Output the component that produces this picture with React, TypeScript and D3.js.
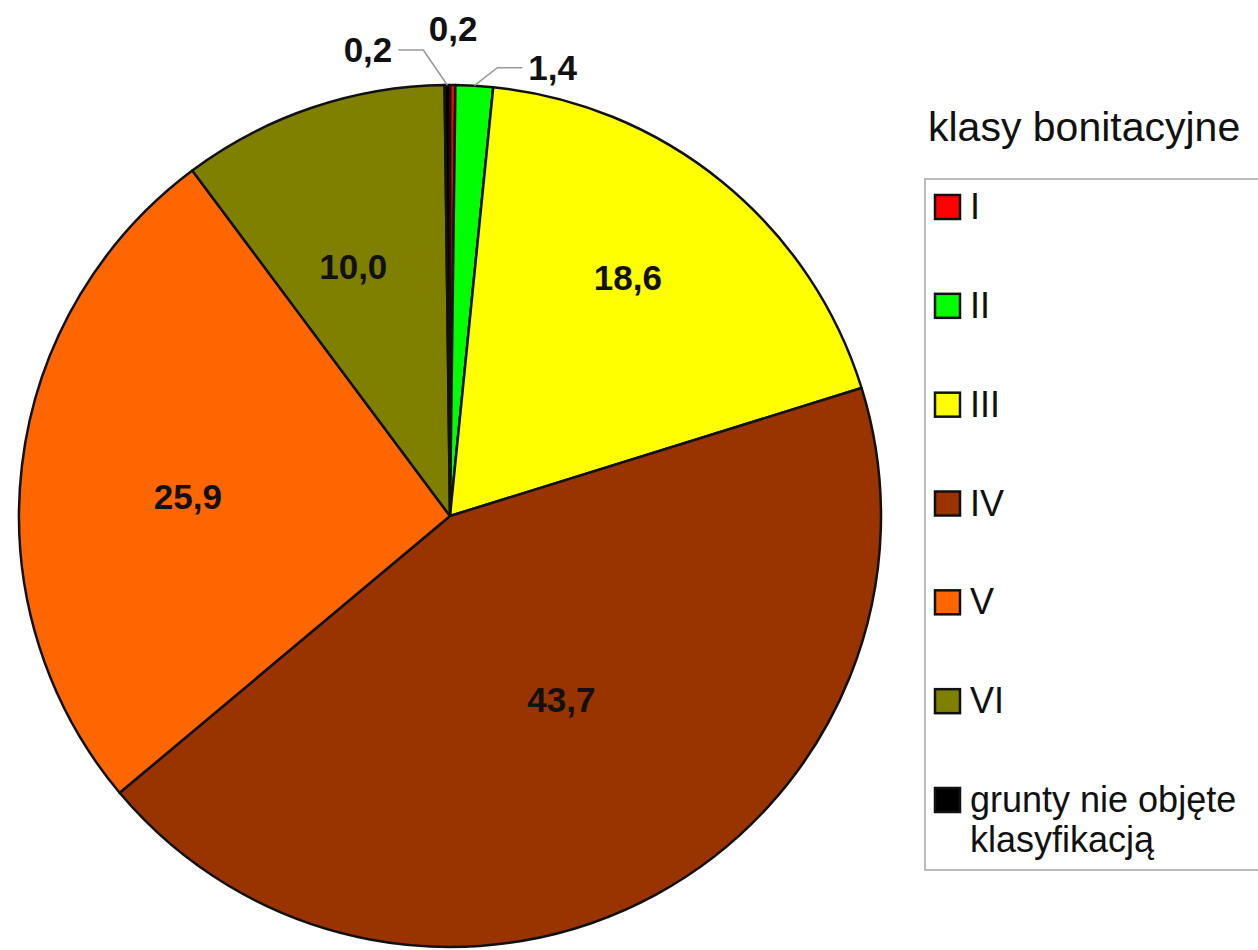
import React, { useEffect, useRef } from 'react';
import * as d3 from 'd3';

const categories = ['I', 'II', 'III', 'IV', 'V', 'VI', 'grunty nie objęte\nklasyfikacją'];
const values = [0.2, 1.4, 18.6, 43.7, 25.9, 10.0, 0.2];
const colors = ['#ff0000', '#00ff00', '#ffff00', '#993300', '#ff6600', '#808000', '#000000'];
const legendTitle = 'klasy bonitacyjne';

// label placement per slice: inside at a fraction of the radius, or outside with a leader line
const labelLayout: Record<number, any> = {
    0: { kind: 'top', rr: 1.13 },
    1: { kind: 'leader', ex: 23, ey: -18, run: 25 },
    2: { kind: 'in', rr: 0.69 },
    3: { kind: 'in', rr: 0.5 },
    4: { kind: 'in', rr: 0.61 },
    5: { kind: 'in', rr: 0.62 },
    6: { kind: 'leader', ex: -24, ey: -35, run: -25 },
};

const fmt = (v: number) => v.toFixed(1).replace('.', ',');

export default function App() {
    const ref = useRef<HTMLDivElement>(null);

    useEffect(() => {
        const container = ref.current;
        if (!container) return;
        container.innerHTML = '';

        const width = 1258;
        const height = 950;
        const cx = 450;
        const cy = 516;
        const radius = 431;
        const font = '"Liberation Sans", Arial, sans-serif';

        const svg = d3.select(container).append('svg')
            .attr('width', width)
            .attr('height', height)
            .style('display', 'block')
            .style('background', '#fff');

        const pie = d3.pie<number>().sort(null).value(d => d);
        const arcs = pie(values);
        const arc = d3.arc<d3.PieArcDatum<number>>().innerRadius(0).outerRadius(radius);

        const g = svg.append('g').attr('transform', `translate(${cx},${cy})`);

        g.selectAll('path')
            .data(arcs)
            .join('path')
            .attr('d', arc)
            .attr('fill', (d, i) => colors[i])
            .attr('stroke', '#111')
            .attr('stroke-width', 2.5)
            .attr('stroke-linejoin', 'round');

        const shift = -2.5 * Math.PI / 180;
        const polar = (a: number, r: number) => [Math.sin(a) * r, -Math.cos(a) * r];

        arcs.forEach((d, i) => {
            const lay = labelLayout[i];
            const mid = (d.startAngle + d.endAngle) / 2;
            const text = fmt(values[i]);
            const label = g.append('text')
                .text(text)
                .attr('font-family', font)
                .attr('font-weight', 'bold')
                .attr('font-size', 35)
                .attr('fill', '#111');

            if (lay.kind === 'in') {
                const [x, y] = polar(mid + shift, radius * lay.rr);
                label.attr('x', x).attr('y', y + 12).attr('text-anchor', 'middle');
            } else if (lay.kind === 'top') {
                const [x, y] = polar(mid, radius * lay.rr);
                label.attr('x', x).attr('y', y + 12).attr('text-anchor', 'middle');
            } else {
                const [px, py] = polar(mid, radius);
                const ex = px + lay.ex;
                const ey = py + lay.ey;
                const endX = ex + lay.run;
                g.append('path')
                    .attr('d', d3.line()([[px, py], [ex, ey], [endX, ey]]))
                    .attr('fill', 'none')
                    .attr('stroke', '#999')
                    .attr('stroke-width', 1.5);
                const right = lay.run > 0;
                label.attr('x', endX + (right ? 6 : -6))
                    .attr('y', ey + 12)
                    .attr('text-anchor', right ? 'start' : 'end');
            }
        });

        // legend
        svg.append('text')
            .attr('x', 928)
            .attr('y', 141)
            .attr('font-family', font)
            .attr('font-size', 41)
            .attr('fill', '#111')
            .text(legendTitle);

        svg.append('rect')
            .attr('x', 925)
            .attr('y', 179)
            .attr('width', 360)
            .attr('height', 691)
            .attr('fill', '#fff')
            .attr('stroke', '#bbb')
            .attr('stroke-width', 2);

        const rowY = d3.scalePoint<number>()
            .domain(d3.range(categories.length))
            .range([207, 800]);

        const items = svg.append('g')
            .selectAll('g')
            .data(categories)
            .join('g')
            .attr('transform', (d, i) => `translate(935,${rowY(i)})`);

        items.append('rect')
            .attr('x', 0)
            .attr('y', -12)
            .attr('width', 25)
            .attr('height', 24)
            .attr('fill', (d, i) => colors[i])
            .attr('stroke', '#111')
            .attr('stroke-width', 2.5);

        items.append('text')
            .attr('x', 35)
            .attr('y', 12)
            .attr('font-family', font)
            .attr('font-size', 36)
            .attr('fill', '#111')
            .each(function (d) {
                const lines = d.split('\n');
                lines.forEach((line, k) => {
                    d3.select(this).append('tspan')
                        .attr('x', 35)
                        .attr('dy', k === 0 ? 0 : 40)
                        .text(line);
                });
            });
    }, []);

    return (
        <div ref={ref} style={{ position: 'absolute', left: 0, top: 0, width: 1258, height: 950, overflow: 'hidden' }} />
    );
}
